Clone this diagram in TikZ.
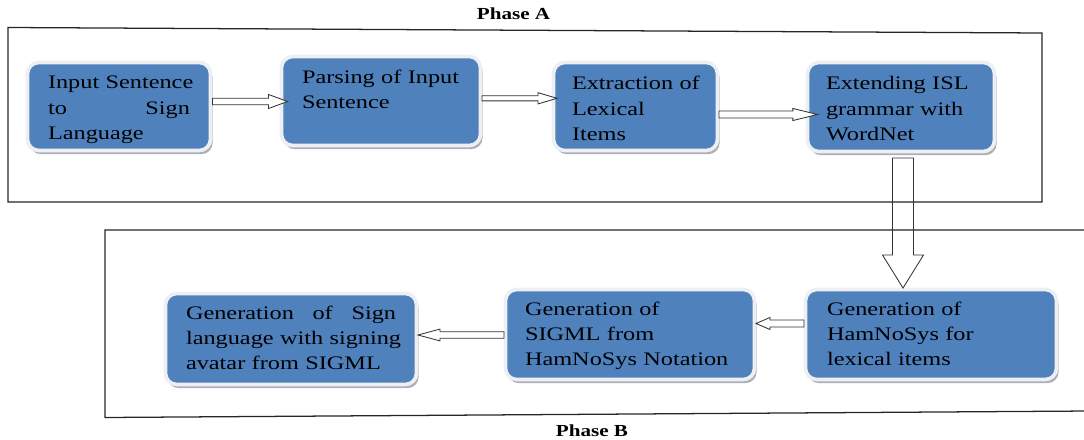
\documentclass[tikz,border=0pt]{standalone}
\usepackage{fontspec}
\setmainfont{Liberation Serif}[FakeStretch=1.27]
\newfontfamily\phasefont{Liberation Serif}[FakeStretch=1.25]
\usetikzlibrary{calc,fit,shadows}

\definecolor{boxblue}{RGB}{79,129,189}
\definecolor{boxrim}{RGB}{237,239,243}
\definecolor{rimshade}{RGB}{150,155,165}

\tikzset{
  stagebox/.style={rounded corners=8pt, fill=boxblue, draw=boxrim, line width=2.6pt,
    inner sep=0pt, outer sep=0pt,
    drop shadow={shadow xshift=1.5pt, shadow yshift=-2.6pt, fill=rimshade, opacity=0.8}},
  stagetext/.style={anchor=base west, inner sep=0pt, outer sep=0pt, align=left,
    text width=7cm, font=\fontsize{13.6}{17.8}\selectfont},
  phaselabel/.style={anchor=base, inner sep=0pt,
    font=\phasefont\fontsize{12}{14}\selectfont\bfseries},
  phaseframe/.style={draw=black!85, line width=0.9pt},
  blockarrow/.style={draw=black!80, fill=white, line width=0.6pt, line join=miter},
}

% hollow block arrow running horizontally: start, tip, shaft half-height,
% head half-height, head length, sign pointing back from the tip
\newcommand\hblock[6]{%
  \draw[blockarrow] let \p1=(#1), \p2=(#2) in
    (\x1,\y1-#3) -- (\x2#6#5,\y1-#3) -- (\x2#6#5,\y1-#4) -- (\x2,\y1)
    -- (\x2#6#5,\y1+#4) -- (\x2#6#5,\y1+#3) -- (\x1,\y1+#3) -- cycle;}

% hollow block arrow pointing down: start, tip, shaft half-width,
% head half-width, head length
\newcommand\vblock[5]{%
  \draw[blockarrow] let \p1=(#1), \p2=(#2) in
    (\x1-#3,\y1) -- (\x1-#3,\y2+#5) -- (\x1-#4,\y2+#5) -- (\x1,\y2)
    -- (\x1+#4,\y2+#5) -- (\x1+#3,\y2+#5) -- (\x1+#3,\y1) -- cycle;}

\begin{document}
\begin{tikzpicture}[x=0.025cm, y=-0.025cm]
\useasboundingbox (0,0) rectangle (1084,440);

% ---- Phase A stages
\node[stagebox, fit={(27.5,62.5) (210.5,150.5)}] (b1) {};
\node[stagebox, fit={(281.5,56.5) (480.5,145.5)}] (b2) {};
\node[stagebox, fit={(553.5,62.5) (717.5,150.5)}] (b3) {};
\node[stagebox, fit={(807.5,62.5) (994.5,151.5)}] (b4) {};

% ---- Phase B stages
\node[stagebox, fit={(165.5,293.5) (416.5,384.5)}] (b5) {};
\node[stagebox, fit={(505.5,289.5) (754.5,379.5)}] (b6) {};
\node[stagebox, fit={(805.5,289.5) (1056.5,379.5)}] (b7) {};

% ---- stage texts (justified lines are spread by hand)
\node[stagetext] (t1) at ($(b1.north west)+(20.5,26.5)$)
  {Input Sentence\\\makebox[3.55cm][l]{to\hfill Sign}\\Language};
\node[stagetext] (t2) at ($(b2.north west)+(20.5,27)$)
  {Parsing of Input\\Sentence};
\node[stagetext] (t3) at ($(b3.north west)+(18.5,27.5)$)
  {Extraction of\\Lexical\\Items};
\node[stagetext] (t4) at ($(b4.north west)+(18.5,27.5)$)
  {Extending ISL\\grammar with\\WordNet};
\node[stagetext] (t5) at ($(b5.north west)+(20.5,26)$)
  {\makebox[5.25cm][l]{Generation\hfill of\hfill Sign}\\language with signing\\avatar from SIGML};
\node[stagetext] (t6) at ($(b6.north west)+(19.5,26)$)
  {Generation of\\SIGML from\\HamNoSys Notation};
\node[stagetext] (t7) at ($(b7.north west)+(21.5,26)$)
  {Generation of\\HamNoSys for\\lexical items};

% ---- block arrows between the stages
\hblock{$(b1.east |- 0,101.5)+(2,0)$}{$(b2.west |- 0,101.5)+(6,0)$}{2.35pt}{5pt}{13.5pt}{-}
\hblock{$(b2.east |- 0,98.3)+(1.5,0)$}{$(b3.west |- 0,98.3)+(3.5,0)$}{1.85pt}{4pt}{13.5pt}{-}
\hblock{$(b3.east |- 0,114.5)+(1.5,0)$}{$(b4.west |- 0,114.5)+(10,0)$}{2.5pt}{4.3pt}{17.5pt}{-}
\vblock{$(b4.south -| 903,0)+(0,6.5)$}{$(b7.north -| 903,0)+(0,-1.5)$}{7.5pt}{14.6pt}{23.5pt}
\hblock{$(b7.west |- 0,323.5)+(-1.5,0)$}{$(b6.east |- 0,323.5)+(1.5,0)$}{2.5pt}{4.3pt}{10pt}{+}
\hblock{$(b6.west |- 0,335)+(-1.5,0)$}{$(b5.east |- 0,335)+(1.5,0)$}{2.3pt}{4.2pt}{15.6pt}{+}

% ---- phase frames and their labels
\draw[phaseframe] (8,27.5) -- (1042,33) -- (1042,202) -- (8,202) -- cycle;
\draw[phaseframe] (105,230) -- (1090,230) -- (1090,411) -- (105,417.5) -- cycle;
\node[phaselabel] (pa) at (513.5,20) {Phase A};
\node[phaselabel] (pb) at (592,436) {Phase B};
\end{tikzpicture}
\end{document}
